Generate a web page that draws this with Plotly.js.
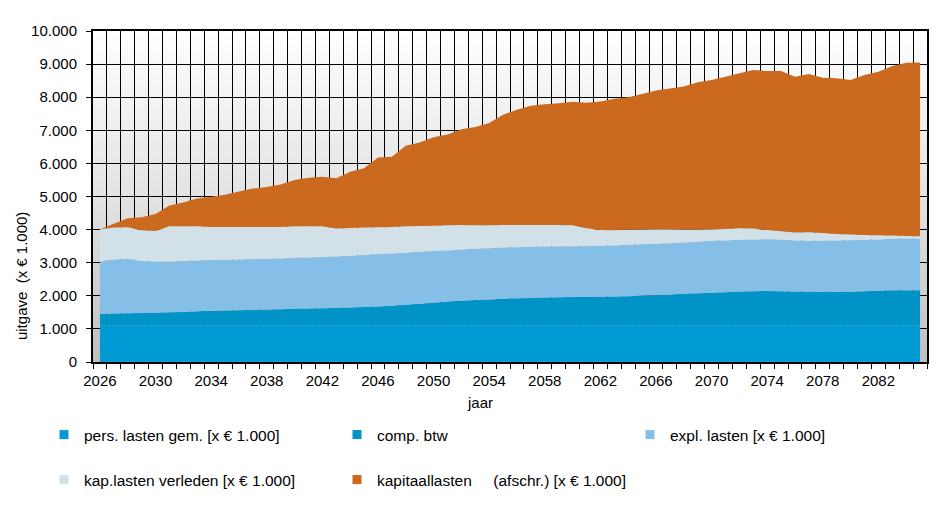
<!DOCTYPE html>
<html>
<head>
<meta charset="utf-8">
<script src="https://cdn.plot.ly/plotly-3.0.1.min.js"></script>
<style>
html,body{margin:0;padding:0;background:#ffffff;}
#chart{width:951px;height:516px;}
</style>
</head>
<body>
<div id="chart"></div>
<script>
// ---------- data ----------
const years = [2026,2027,2028,2029,2030,2031,2032,2033,2034,2035,
               2036,2037,2038,2039,2040,2041,2042,2043,2044,2045,
               2046,2047,2048,2049,2050,2051,2052,2053,2054,2055,
               2056,2057,2058,2059,2060,2061,2062,2063,2064,2065,
               2066,2067,2068,2069,2070,2071,2072,2073,2074,2075,
               2076,2077,2078,2079,2080,2081,2082,2083,2084,2085];

const persLasten = [1110,1110,1110,1110,1110,1110,1110,1110,1110,1110,
                    1110,1110,1110,1110,1110,1110,1110,1110,1110,1110,
                    1110,1110,1110,1110,1110,1110,1110,1110,1110,1110,
                    1110,1110,1110,1110,1110,1110,1110,1110,1110,1110,
                    1110,1110,1110,1110,1110,1110,1110,1110,1110,1110,
                    1110,1110,1110,1110,1110,1110,1110,1110,1110,1110];

const compBtw = [340,355,360,370,380,390,400,420,435,445,
                 455,465,475,485,495,505,515,525,540,555,
                 570,590,620,650,680,720,740,760,780,800,
                 815,825,835,845,850,855,860,870,880,890,
                 910,930,950,965,980,1000,1020,1030,1035,1030,
                 1020,1015,1015,1015,1015,1025,1040,1055,1060,1060];

const explLasten = [1590,1635,1650,1570,1550,1540,1540,1540,1535,1535,
                    1535,1535,1535,1535,1545,1545,1545,1555,1560,1565,
                    1580,1580,1570,1570,1560,1540,1550,1550,1550,1550,
                    1545,1545,1545,1540,1540,1540,1540,1540,1550,1555,
                    1550,1550,1550,1555,1570,1560,1560,1560,1565,1560,
                    1540,1540,1540,1545,1555,1555,1550,1555,1560,1550];

const kapVerleden = [970,960,950,930,920,1060,1050,1030,1000,990,
                     980,970,960,950,950,940,930,840,840,830,
                     810,800,800,780,770,760,740,710,690,680,
                     670,660,650,645,630,535,480,460,460,445,
                     440,420,390,370,350,350,350,330,280,250,
                     240,255,235,200,170,150,130,100,80,80];

const kapitaalLasten = [0,120,270,390,510,630,720,840,910,970,
                        1070,1160,1210,1280,1400,1470,1500,1520,1700,1790,
                        2110,2120,2430,2520,2670,2740,2890,2970,3090,3330,
                        3480,3600,3650,3680,3730,3790,3880,3970,4000,4100,
                        4190,4250,4320,4450,4510,4600,4680,4790,4800,4840,
                        4710,4780,4690,4700,4670,4830,4940,5120,5230,5250];

const seriesNames = [
  'pers. lasten gem. [x € 1.000]',
  'comp. btw',
  'expl. lasten [x € 1.000]',
  'kap.lasten verleden [x € 1.000]',
  'kapitaallasten\u00a0\u00a0\u00a0\u00a0 (afschr.) [x € 1.000]'
];
const seriesColors = ['#009bd5','#0093c6','#85bfe7','#d2e0e8','#cb691e'];

const xTickVals = [2026,2030,2034,2038,2042,2046,2050,2054,2058,2062,2066,2070,2074,2078,2082];
const xTickText = ['2026','2030','2034','2038','2042','2046','2050','2054','2058','2062','2066','2070','2074','2078','2082'];

// ---------- background gradient ----------
const cv = document.createElement('canvas');
cv.width = 4; cv.height = 400;
const ctx = cv.getContext('2d');
const grd = ctx.createLinearGradient(0, 0, 0, 400);
grd.addColorStop(0, '#ffffff');
grd.addColorStop(0.5, '#e3e3e3');
grd.addColorStop(1, '#bfbfbf');
ctx.fillStyle = grd;
ctx.fillRect(0, 0, 4, 400);
const bgURL = cv.toDataURL('image/png');

// ---------- traces ----------
const allSeries = [persLasten, compBtw, explLasten, kapVerleden, kapitaalLasten];
const legendIds = ['legend', 'legend2', 'legend3', 'legend4', 'legend5'];
const traces = [];
allSeries.forEach((vals, i) => {
  traces.push({
    type: 'scatter', x: years, y: vals, name: seriesNames[i],
    stackgroup: 'one', mode: 'none', fill: 'tonexty',
    fillcolor: seriesColors[i], line: {width: 0},
    showlegend: false, legendgroup: 'g' + i, hoverinfo: 'x+y+name'
  });
});
// legend swatches (small squares like the original)
allSeries.forEach((vals, i) => {
  traces.push({
    type: 'scatter', x: [null], y: [null], name: seriesNames[i],
    mode: 'markers', marker: {symbol: 'square', size: 9, color: seriesColors[i], line: {width: 0}},
    showlegend: true, legendgroup: 'g' + i,
    legend: legendIds[i]
  });
});

const fam = '"Liberation Sans", Arial, sans-serif';
const font = {family: fam, size: 15, color: '#000000'};
const legFont = {family: fam, size: 15.5, color: '#000000'};

// legend slot positions (container pixels): column x and row y
const legX = [44, 337, 630, 44, 337];
const legY = [435, 435, 435, 480, 480];

const layout = {
  width: 951, height: 516,
  margin: {l: 93, r: 24, t: 31, b: 154, pad: 0},
  paper_bgcolor: '#ffffff',
  plot_bgcolor: 'rgba(0,0,0,0)',
  separators: ',.',
  font: font,
  showlegend: true,
  xaxis: {
    range: [2025.5, 2085.5], fixedrange: true,
    tickvals: xTickVals, ticktext: xTickText,
    ticks: '', showgrid: false, zeroline: false, ticklabelstandoff: 4,
    showline: true, linecolor: '#000000', linewidth: 2, mirror: true,
    tickfont: font,
    minor: {tick0: 2025.5, dtick: 1, ticks: 'outside', ticklen: 5, tickcolor: '#000000', tickwidth: 1,
            showgrid: true, gridcolor: '#000000', gridwidth: 1}
  },
  yaxis: {
    range: [0, 10000], dtick: 1000, tickformat: ',d', fixedrange: true,
    ticks: 'outside', ticklen: 5, tickcolor: '#000000', ticklabelstandoff: 6,
    showgrid: true, gridcolor: '#000000', gridwidth: 1, zeroline: false,
    showline: true, linecolor: '#000000', linewidth: 2, mirror: true,
    tickfont: font
  },
  images: [{
    source: bgURL, xref: 'paper', yref: 'paper', x: 0, y: 1, sizex: 1, sizey: 1,
    xanchor: 'left', yanchor: 'top', sizing: 'stretch', layer: 'below'
  }],
  annotations: [
    {text: 'uitgave\u00a0 (x € 1.000)', xref: 'paper', yref: 'paper',
     x: -0.085, y: 0.26, xanchor: 'center', yanchor: 'middle', textangle: -90,
     showarrow: false, font: font},
    {text: 'jaar', xref: 'paper', yref: 'paper',
     x: (480 - 93) / 834, y: -(402 - 362) / 331, xanchor: 'center', yanchor: 'middle',
     showarrow: false, font: font}
  ]
};

legendIds.forEach((id, i) => {
  layout[id] = {
    orientation: 'h', xref: 'container', yref: 'container',
    x: legX[i] / 951, y: 1 - legY[i] / 516, xanchor: 'left', yanchor: 'middle',
    bgcolor: 'rgba(0,0,0,0)', borderwidth: 0,
    font: legFont,
    itemclick: false, itemdoubleclick: false
  };
});

Plotly.newPlot('chart', traces, layout, {displayModeBar: false, staticPlot: true});
</script>
</body>
</html>
